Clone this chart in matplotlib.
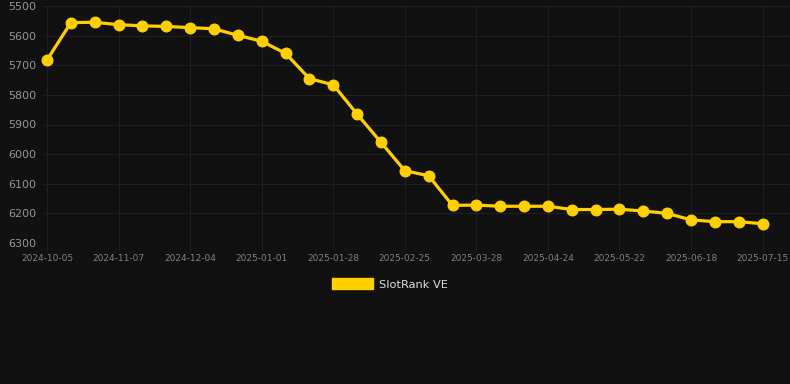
import matplotlib
matplotlib.use("Agg")
import matplotlib.pyplot as plt
from matplotlib.patches import Patch

tick_labels = ["2024-10-05", "2024-11-07", "2024-12-04", "2025-01-01", "2025-01-28",
               "2025-02-25", "2025-03-28", "2025-04-24", "2025-05-22", "2025-06-18",
               "2025-07-15"]
series_name = "SlotRank VE"
values = [5682, 5556, 5555, 5563, 5567, 5569, 5573, 5577, 5599, 5619,
          5660, 5745, 5766, 5865, 5960, 6056, 6073, 6173, 6172, 6176,
          6176, 6176, 6187, 6187, 6186, 6192, 6200, 6222, 6228, 6228, 6235]
y_ticks = [5500, 5600, 5700, 5800, 5900, 6000, 6100, 6200, 6300]

BG = "#111111"
GRID = "#1f1f1f"
GOLD = "#FFD000"

fig = plt.figure(figsize=(7.9, 3.84), dpi=100, facecolor=BG)
ax = fig.add_axes([43/790, 1 - 243/384, 1 - 43/790, (243 - 6)/384])
ax.set_facecolor(BG)

x = list(range(len(values)))
ax.plot(x, values, color=GOLD, lw=2.3, marker="o", markersize=7.6,
        markerfacecolor=GOLD, markeredgecolor=GOLD, zorder=3, clip_on=False)

ax.set_ylim(6300, 5500)
ax.set_yticks(y_ticks)
ax.set_yticklabels([str(v) for v in y_ticks])
ax.set_xlim(-0.17, 31.15)
ax.set_xticks(list(range(0, len(values), 3)))
ax.set_xticklabels(tick_labels)

ax.grid(True, color=GRID, lw=0.8)
ax.set_axisbelow(True)
for s in ax.spines.values():
    s.set_visible(False)
ax.tick_params(axis="y", colors="#8a8a8a", labelsize=8, length=0, pad=5)
ax.tick_params(axis="x", colors=GRID, labelcolor="#808080", labelsize=6.5, length=5, width=0.8, pad=3)
for lab in ax.get_yticklabels():
    lab.set_color("#959595")

handle = Patch(facecolor=GOLD, edgecolor=GOLD)
leg = fig.legend([handle], [series_name], loc="center", bbox_to_anchor=(390/790, 1 - 284/384),
                 frameon=False, fontsize=8.2, handlelength=3.6, handleheight=1.05,
                 handletextpad=0.55, borderaxespad=0)
for t in leg.get_texts():
    t.set_color("#dddddd")

fig.savefig("out.png", dpi=100, facecolor=BG)
